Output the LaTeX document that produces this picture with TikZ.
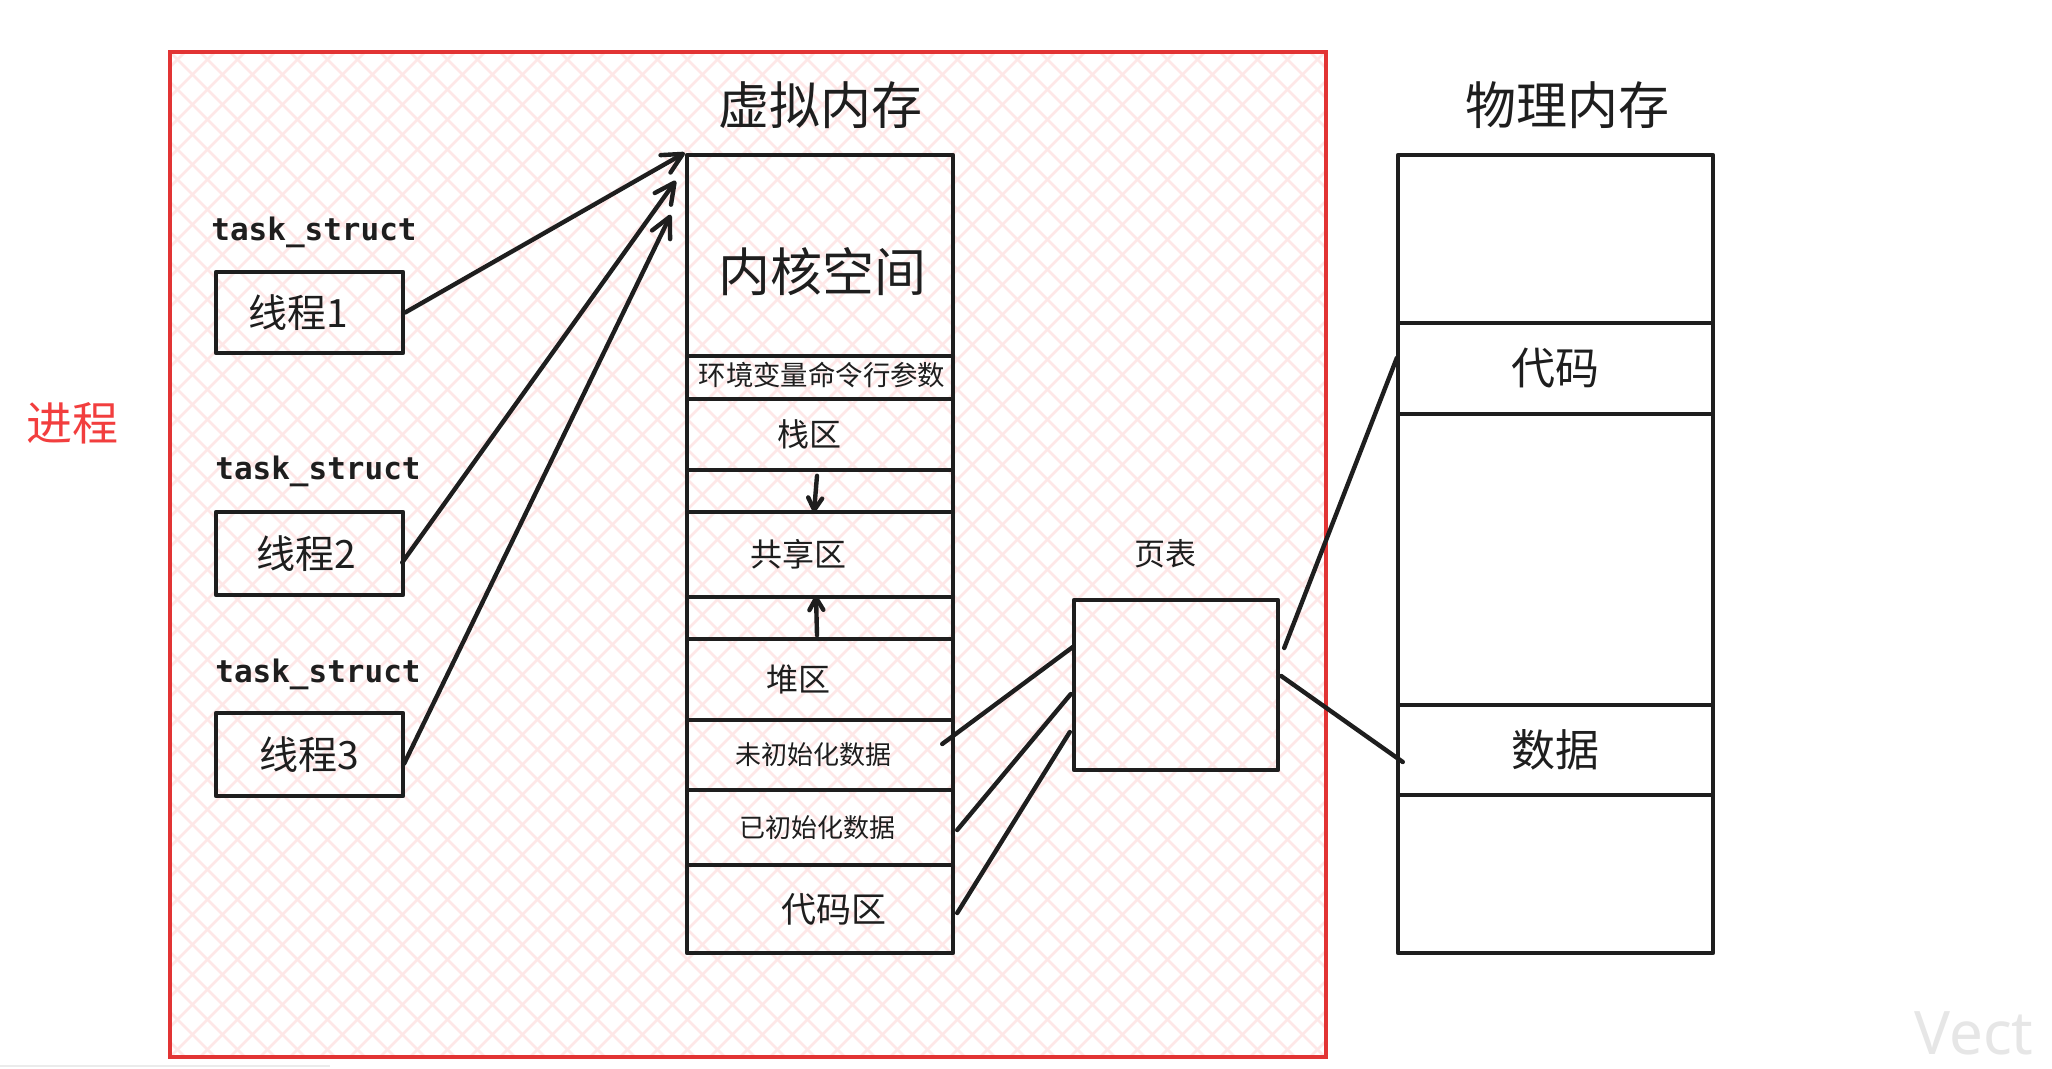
\documentclass[tikz,border=0pt]{standalone}
\usepackage{fontspec}
\setmainfont{Noto Sans CJK SC}
\newfontfamily\monof{DejaVu Sans Mono}
\newfontfamily\wmf{Noto Sans}
\usetikzlibrary{arrows.meta,calc}
\definecolor{ink}{RGB}{30,30,30}
\definecolor{redbox}{RGB}{226,52,52}
\definecolor{redtxt}{RGB}{242,62,62}
\definecolor{hatchc}{RGB}{254,231,231}
\definecolor{wmc}{RGB}{230,230,230}
\newcommand\myfs[1]{\fontsize{#1}{#1}\selectfont}
\begin{document}
\begin{tikzpicture}[x=0.5pt,y=-0.5pt,
  lbl/.style={text=ink,inner sep=0pt},
  vcell/.style={draw=ink,line width=2.2pt,line join=round,inner sep=0pt,minimum width=133pt},
  pcell/.style={draw=ink,line width=2.2pt,line join=round,inner sep=0pt,minimum width=157.5pt},
  tbox/.style={draw=ink,line width=2.2pt,line join=round,inner sep=0pt,minimum width=93.5pt,minimum height=41pt,text=ink,font=\myfs{19.5pt}},
  conn/.style={draw=ink,line width=2.2pt,line cap=round},
  bigarr/.style={conn,-{Straight Barb[length=10pt,width=10pt,round]}},
  smallarr/.style={conn,-{Straight Barb[length=6pt,width=7pt,round]}}]
\useasboundingbox (0,0) rectangle (2052,1069);
\fill[white] (0,0) rectangle (2052,1069);
% hatch inside the process box
\begin{scope}
\clip (170,52) rectangle (1326,1057);
\foreach \i in {-1050,-1020,...,1180}{
  \draw[hatchc,line width=1.3pt] (170+\i,52) -- ++(1005,1005);
  \draw[hatchc,line width=1.3pt] (170+\i,1057) -- ++(1005,-1005);
}
\end{scope}
\draw[redbox,line width=2.2pt] (170,52) rectangle (1326,1057);
% titles
\node[lbl,font=\myfs{25.5pt}] (vmt) at (820,105) {虚拟内存};
\node[lbl,font=\myfs{25.5pt}] (pmt) at (1567,105) {物理内存};
\node[text=redtxt,inner sep=0pt,font=\myfs{23pt}] (proc) at (72,423) {进程};
% virtual memory column
\node[vcell,minimum height=100.5pt,label={[lbl,font=\myfs{26pt},xshift=1pt,yshift=-8pt]center:内核空间}] (ks) at (820,255.5) {};
\node[vcell,minimum height=21.5pt,label={[lbl,font=\myfs{13.7pt},xshift=1pt,yshift=1.5pt]center:环境变量命令行参数}] (env) at (820,377.5) {};
\node[vcell,minimum height=35.5pt,label={[lbl,font=\myfs{16pt},xshift=-5.5pt]center:栈区}] (stack) at (820,434.5) {};
\node[vcell,minimum height=21pt] (gap1) at (820,491) {};
\node[vcell,minimum height=42.5pt,label={[lbl,font=\myfs{16pt},xshift=-11pt]center:共享区}] (shared) at (820,554.5) {};
\node[vcell,minimum height=21pt] (gap2) at (820,618) {};
\node[vcell,minimum height=40.5pt,label={[lbl,font=\myfs{16pt},xshift=-11pt]center:堆区}] (heap) at (820,679.5) {};
\node[vcell,minimum height=35pt,label={[lbl,font=\myfs{13pt},xshift=-3.5pt]center:未初始化数据}] (bss) at (820,755) {};
\node[vcell,minimum height=37.5pt,label={[lbl,font=\myfs{13pt},xshift=-1.5pt]center:已初始化数据}] (data) at (820,827.5) {};
\node[vcell,minimum height=44pt,label={[lbl,font=\myfs{17.5pt},xshift=7pt]center:代码区}] (code) at (820,909) {};
% physical memory column
\node[pcell,minimum height=84pt] (p0) at (1555.5,239) {};
\node[pcell,minimum height=45.5pt,font=\myfs{22pt},text=ink] (pcode) at (1555.5,368.5) {\raisebox{-1.5pt}{代码}};
\node[pcell,minimum height=145.5pt] (p2) at (1555.5,559.5) {};
\node[pcell,minimum height=45pt,font=\myfs{22pt},text=ink] (pdata) at (1555.5,750) {数据};
\node[pcell,minimum height=79pt] (p4) at (1555.5,874) {};
% page table
\node[draw=ink,line width=2.2pt,line join=round,inner sep=0pt,minimum width=102pt,minimum height=85pt] (pt) at (1176,685) {};
\node[lbl,font=\myfs{15.5pt}] (ptl) at (1165,554) {页表};
% threads
\node[lbl,font=\monof\bfseries\myfs{15.5pt}] (ts1) at (314,232) {task\_struct};
\node[lbl,font=\monof\bfseries\myfs{15.5pt}] (ts2) at (318,471) {task\_struct};
\node[lbl,font=\monof\bfseries\myfs{15.5pt}] (ts3) at (318,674) {task\_struct};
\node[tbox,minimum height=40.5pt] (t1) at (309.5,312.5) {\hspace*{-11pt}线程1};
\node[tbox,minimum height=41.5pt] (t2) at (309.5,553.5) {\hspace*{-3pt}线程2};
\node[tbox,minimum height=41.5pt] (t3) at (309.5,754.5) {线程3};
% arrows from threads to kernel space
\draw[bigarr] (t1.east) -- (ks.north west);
\draw[bigarr] ($(t2.east)+(-3,9)$) -- ($(ks.north west)+(-9,28)$);
\draw[bigarr] ($(t3.east)+(-1,9)$) -- ($(ks.north west)+(-14,62)$);
% growth arrows
\draw[smallarr] ($(gap1.north)+(-3,8)$) -- ($(gap1.south)+(-6,-2)$);
\draw[smallarr] ($(gap2.south)+(-3,-6)$) -- ($(gap2.north)+(-4,1)$);
% segments to page table
\draw[conn] ($(bss.east)+(-13,-11)$) -- ($(pt.west)+(1,-38)$);
\draw[conn] ($(data.east)+(2,2.5)$) -- ($(pt.west)+(-1,9)$);
\draw[conn] ($(code.east)+(2,4)$) -- ($(pt.west)+(-2,47)$);
% page table to physical memory
\draw[conn] ($(pt.east)+(4,-37)$) -- ($(pcode.west)+(1,-10.5)$);
\draw[conn] ($(pt.east)+(1,-9)$) -- ($(pdata.west)+(7,12)$);
% watermark
\node[anchor=base west,inner sep=0pt,text=wmc,font=\wmf\myfs{30pt}] (wm) at (1914,1054) {Vect};
\draw[black!8,line width=1pt] (0,1066) -- (330,1066);
\end{tikzpicture}
\end{document}
